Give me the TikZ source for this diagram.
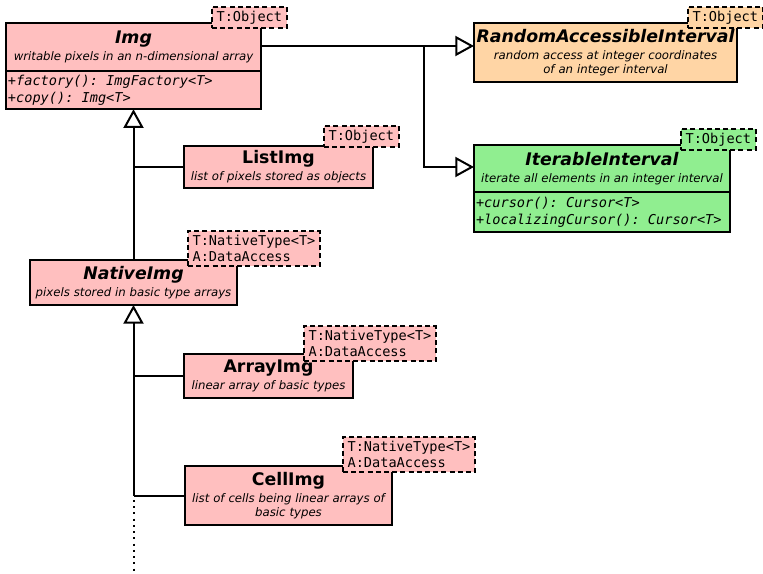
\documentclass[tikz,border=0pt]{standalone}
\usepackage{fontspec}
\setmainfont{DejaVu Sans}
\setsansfont{DejaVu Sans}
\setmonofont{DejaVu Sans Mono}
\usetikzlibrary{arrows.meta,calc,shapes.multipart}

\newlength\px
\setlength\px{0.75pt}
\definecolor{imgpink}{HTML}{FFBFBF}
\definecolor{ifaceorange}{HTML}{FFD5A5}
\definecolor{ifacegreen}{HTML}{90EE90}

\newcommand\clsname[1]{{\fontsize{13}{15}\selectfont\bfseries\upshape #1}}
\newcommand\absname[1]{{\fontsize{13}{15}\selectfont\bfseries\itshape #1}}
\newcommand\methodfont{\ttfamily\itshape\fontsize{10.2}{12.75}\selectfont}

\tikzset{
  cls/.style={draw, line width=1.6pt, inner sep=0pt, outer sep=0pt, anchor=north west,
    font=\fontsize{8.8}{10.5}\selectfont\itshape},
  single/.style={cls, align=center, text width=#1, minimum width=#1},
  tmpl/.style={draw, dash pattern=on 3.75pt off 2.4pt, line width=1.6pt, inner xsep=4.5\px,
    inner ysep=4\px, anchor=south west, align=left, font=\ttfamily\fontsize{10.2}{12}\selectfont},
  inherit/.style={line width=1.5pt, -{Triangle[open, width=15pt, length=14pt]}},
  branch/.style={line width=1.5pt},
}

\begin{document}
\begin{tikzpicture}[x=\px, y=-\px]
  \useasboundingbox (0,0) rectangle (763,574);

  % classes
  \node[cls, rectangle split, rectangle split parts=2, fill=imgpink] (img) at (6,23)
    {\parbox[c][46\px][c]{255\px}{\centering\baselineskip=17\px
        \absname{Img}\\ writable pixels in an n-dimensional array}
     \nodepart{two}\parbox[c][36\px][c]{255\px}{\methodfont\baselineskip=17\px\leftskip=2\px
        +factory(): ImgFactory<T>\\ +copy(): Img<T>}};
  \node[single=263\px, minimum height=59\px, fill=ifaceorange] (rai) at (474,23)
    {\absname{RandomAccessibleInterval}\\[3\px] random access at integer coordinates\\ of an integer interval};
  \node[cls, rectangle split, rectangle split parts=2, fill=ifacegreen] (iter) at (474,145)
    {\parbox[c][45\px][c]{256\px}{\centering\baselineskip=17\px
        \absname{IterableInterval}\\ iterate all elements in an integer interval}
     \nodepart{two}\parbox[c][38\px][c]{256\px}{\methodfont\baselineskip=17\px\leftskip=2\px
        +cursor(): Cursor<T>\\ +localizingCursor(): Cursor<T>}};
  \node[single=189\px, minimum height=42\px, fill=imgpink] (listimg) at (184,146)
    {\clsname{ListImg}\\[3\px] list of pixels stored as objects};
  \node[single=207\px, minimum height=45\px, fill=imgpink] (nativeimg) at (30,260)
    {\absname{NativeImg}\\[3\px] pixels stored in basic type arrays};
  \node[single=169\px, minimum height=44\px, fill=imgpink] (arrayimg) at (184,354)
    {\clsname{ArrayImg}\\[3\px] linear array of basic types};
  \node[single=207\px, minimum height=59\px, fill=imgpink] (cellimg) at (185,466)
    {\clsname{CellImg}\\[3\px] list of cells being linear arrays of\\ basic types};

  % type parameters
  \node[tmpl, fill=imgpink] (imgT) at ($(img.north east)+(-50,6)$) {T:Object};
  \node[tmpl, fill=ifaceorange] (raiT) at ($(rai.north east)+(-50,6)$) {T:Object};
  \node[tmpl, fill=ifacegreen] (iterT) at ($(iter.north east)+(-50,6)$) {T:Object};
  \node[tmpl, fill=imgpink] (listimgT) at ($(listimg.north east)+(-50,2)$) {T:Object};
  \node[tmpl, fill=imgpink] (nativeimgT) at ($(nativeimg.north east)+(-50,7)$) {T:NativeType<T>\\A:DataAccess};
  \node[tmpl, fill=imgpink] (arrayimgT) at ($(arrayimg.north east)+(-50,8)$) {T:NativeType<T>\\A:DataAccess};
  \node[tmpl, fill=imgpink] (cellimgT) at ($(cellimg.north east)+(-50,7)$) {T:NativeType<T>\\A:DataAccess};

  % inheritance
  \draw[inherit] (img.north east) ++(0,23) coordinate (imgout) -- (imgout -| rai.west);
  \coordinate (iterin) at ($(iter.north west)+(0,22)$);
  \draw[inherit] (imgout) ++(163,0) coordinate (fork) |- (iterin);
  \draw[inherit] (nativeimg.north) -- (img.south);
  \draw[branch] (listimg.west) -- (listimg.west -| img.south);
  \draw[inherit] (cellimg.west -| nativeimg.south) coordinate (last) -- (nativeimg.south);
  \draw[branch] (arrayimg.west) -- (arrayimg.west -| nativeimg.south);
  \draw[branch] (cellimg.west) -- (last);
  \coordinate (more) at (133.5,574);
  \draw[branch, dash pattern=on 1.5pt off 3.2pt, dash phase=1.5pt] (last) -- (more);
\end{tikzpicture}
\end{document}
